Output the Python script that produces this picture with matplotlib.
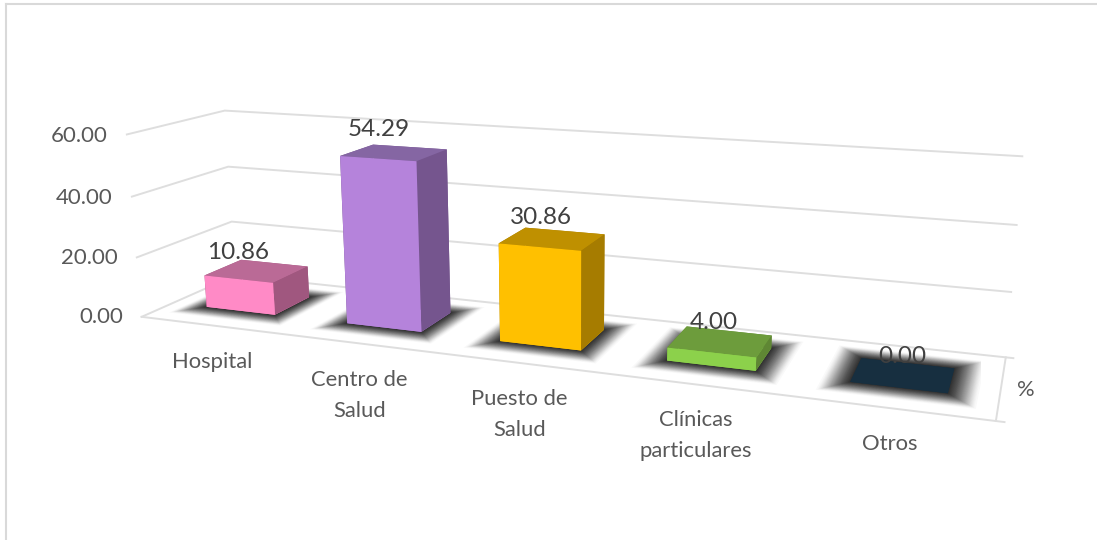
import matplotlib
matplotlib.use("Agg")
import matplotlib.pyplot as plt
from matplotlib.lines import Line2D
from mpl_toolkits.mplot3d import proj3d
from mpl_toolkits.mplot3d.art3d import Poly3DCollection

plt.rcParams["font.family"] = ["Lato", "DejaVu Sans"]

categories = ["Hospital", "Centro de\nSalud", "Puesto de\nSalud", "Clínicas\nparticulares", "Otros"]
values = [10.86, 54.29, 30.86, 4.00, 0.00]
z_ticks = [0, 20, 40, 60]
series_name = "%"

front_colors = ["#FF8AC6", "#B583DB", "#FFC000", "#8CD14B", "#172F40"]
top_colors = ["#BA6A96", "#8566A3", "#BF9000", "#6D9C3C", "#172F40"]
side_colors = ["#A0577F", "#75558E", "#A67C00", "#5F8734", "#172F40"]

GRID = "#DEDEDE"
GAP = 0.252
DEPTH0, DEPTH1 = 0.313, 0.716
N_X = len(categories)


def shadow_layers(ax, i):
    # soft shadow: stack of see-through floor rectangles, big to small
    n = 60
    for k in range(n):
        t = 1 - (k / (n - 1)) ** 0.7
        gx, gy = 0.15 * t, 0.18 * t
        x0, x1 = i + GAP - gx, i + 1 - GAP + gx
        y0, y1 = DEPTH0 - gy, DEPTH1 + gy
        poly = Poly3DCollection([[(x0, y0, 0), (x1, y0, 0), (x1, y1, 0), (x0, y1, 0)]],
                                facecolor=(0, 0, 0, 0.025), edgecolor="none",
                                zorder=2)
        ax.add_collection3d(poly)


def label(ax, x, y, z, s, **kw):
    # plain 2D text placed at the projected 3D point
    u, v, _ = proj3d.proj_transform(x, y, z, ax.get_proj())
    ax.text2D(u, v, s, transform=ax.transData, **kw)


def main():
    fig = plt.figure(figsize=(10.97, 5.4), dpi=100)
    fig.add_artist(Line2D([6 / 1097, 6 / 1097], [0, 1 - 4 / 540], color="#D9D9D9", lw=1.5))
    fig.add_artist(Line2D([6 / 1097, 1], [1 - 4 / 540, 1 - 4 / 540], color="#D9D9D9", lw=1.5))

    # view fitted against the reference corners
    side = 883.68
    ax = fig.add_axes([97.64 / 1097, -155.9 / 540, side / 1097, side / 540],
                      projection="3d")
    ax.patch.set_alpha(0)
    ax.set_xlim(0, N_X)
    ax.set_ylim(0, 1)
    ax.set_zlim(0, z_ticks[-1])
    ax.view_init(elev=14.042, azim=-69.258, roll=0.221)
    ax.set_proj_type("persp", focal_length=0.2822)
    ax.set_box_aspect((1.0, 0.2026, 0.2263))
    ax.computed_zorder = False
    ax.set_xticks([])
    ax.set_yticks([])
    ax.set_zticks([])
    ax.set_axis_off()

    for z in z_ticks:
        ax.plot([0, 0, N_X], [0, 1, 1], [z, z, z], color=GRID, lw=1.4,
                clip_on=False, zorder=1)
        label(ax, -0.14, 0, z - 1, f"{z:.2f}", ha="right", va="center", fontsize=16,
              color="#595959", zorder=5)
    ax.plot([N_X + 0.04, N_X, N_X, 0], [1, 1, 0, 0], [0, 0, 0, 0], color=GRID, lw=1.4,
            clip_on=False, zorder=1)
    ax.plot([N_X, N_X + 0.04], [0, 0], [0, 0], color=GRID, lw=1.4, clip_on=False, zorder=1)

    for i in range(N_X):
        shadow_layers(ax, i)

    xs = [i + GAP for i in range(N_X)]
    face_colors = []
    for f, t, s in zip(front_colors, top_colors, side_colors):
        # bottom, top, front, back, left, right
        face_colors += [f, t, f, s, s, s]
    ax.bar3d(xs, [DEPTH0] * N_X, [0] * N_X, [1 - 2 * GAP] * N_X, [DEPTH1 - DEPTH0] * N_X,
             values, color=face_colors, shade=False, edgecolor="none", zorder=3)

    for i, (name, v) in enumerate(zip(categories, values)):
        label(ax, i + 0.51, DEPTH0, v + 9, f"{v:.2f}", ha="center", va="center",
              fontsize=17.5, color="#404040", zorder=6)
        label(ax, i + 0.5, 0, -9 + 0.45 * i, name, ha="center", va="top", fontsize=15.8,
              color="#595959", zorder=5, linespacing=1.7)
    label(ax, N_X + 0.12, 0.5, 0, series_name, ha="center", va="center", fontsize=15.8,
          color="#595959", zorder=5)

    fig.savefig("out.png", dpi=100)


if __name__ == "__main__":
    main()
